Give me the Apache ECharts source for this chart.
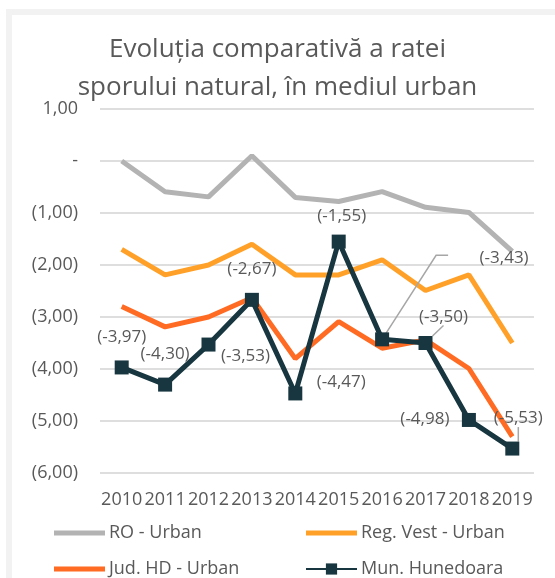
<!DOCTYPE html>
<html>
<head>
<meta charset="utf-8">
<script src="https://cdn.jsdelivr.net/npm/echarts@6/dist/echarts.min.js"></script>
<style>
  html, body { margin: 0; padding: 0; background: #fff; }
  #main { width: 555px; height: 578px; }
</style>
</head>
<body>
<div id="main"></div>
<script>
var years = ['2010', '2011', '2012', '2013', '2014', '2015', '2016', '2017', '2018', '2019'];
var roUrban = [0.00, -0.59, -0.69, 0.10, -0.70, -0.78, -0.59, -0.89, -0.99, -1.74];
var regVest = [-1.70, -2.19, -2.00, -1.60, -2.19, -2.19, -1.90, -2.49, -2.19, -3.50];
var judHd = [-2.80, -3.19, -3.00, -2.63, -3.80, -3.09, -3.60, -3.44, -3.99, -5.30];
var munHunedoara = [-3.97, -4.30, -3.53, -2.67, -4.47, -1.55, -3.43, -3.50, -4.98, -5.53];

// unde stau etichetele fata de marker (dx, dy)
var labelOffsets = [[0, -30], [0, -30], [37, 12], [0, -31], [46, -11], [3, -25], [122, -81], [18, -26], [-44, -1], [6, -30]];
var withLine = [7, 9];

function fmt(v) {
  if (Math.abs(v) < 1e-9) return '-';
  var s = Math.abs(v).toFixed(2).replace('.', ',');
  return v < 0 ? '(' + s + ')' : s;
}

var myChart = echarts.init(document.getElementById('main'));

var textColor = '#595959';
var font = '"Open Sans", sans-serif';
// iconita simpla de linie pt legenda
var lineIcon = 'path://M0,0 L50,0 L50,5 L0,5 Z';

var munData = munHunedoara.map(function (v, i) {
  return {
    value: v,
    labelLine: { show: withLine.indexOf(i) >= 0 }
  };
});

var legendBase = {
  orient: 'vertical',
  top: 524,
  padding: 0,
  height: 60,
  itemWidth: 51,
  itemHeight: 14,
  itemGap: 18,
  textStyle: { fontSize: 18, color: textColor, fontFamily: font, padding: [0, 0, 0, -1] }
};

var option = {
  backgroundColor: '#fff',
  textStyle: { fontFamily: font },
  graphic: [{
    type: 'rect',
    shape: { x: 9, y: 12, width: 600, height: 620 },
    style: { fill: 'none', stroke: '#f2f2f2', lineWidth: 6 },
    silent: true,
    z: -10
  }],
  title: {
    text: 'Evoluția comparativă a ratei\nsporului natural, în mediul urban',
    left: 'center',
    top: 26,
    textStyle: {
      fontFamily: font,
      fontSize: 26,
      fontWeight: 'normal',
      color: textColor,
      lineHeight: 38
    }
  },
  legend: [
    Object.assign({}, legendBase, {
      left: 54,
      data: [
        { name: 'RO - Urban', icon: lineIcon },
        { name: 'Jud. HD - Urban', icon: lineIcon }
      ]
    }),
    Object.assign({}, legendBase, {
      left: 305,
      data: [
        { name: 'Reg. Vest - Urban', icon: lineIcon },
        { name: 'Mun. Hunedoara' }
      ]
    })
  ],
  grid: { left: 100, right: 21, top: 109, bottom: 105 },
  xAxis: {
    type: 'category',
    data: years,
    boundaryGap: true,
    axisLine: { show: false },
    axisTick: { show: false },
    axisLabel: { fontSize: 18, color: textColor, margin: 18, interval: 0, fontFamily: font }
  },
  yAxis: {
    type: 'value',
    min: -6,
    max: 1,
    interval: 1,
    axisLine: { show: false },
    axisTick: { show: false },
    splitLine: { lineStyle: { color: '#dedede', width: 2 } },
    axisLabel: {
      fontSize: 18,
      color: textColor,
      margin: 22,
      fontFamily: font,
      formatter: fmt
    }
  },
  series: [{
    name: 'RO - Urban',
    type: 'line',
    data: roUrban,
    symbol: 'none',
    color: '#b3b3b3',
    lineStyle: { width: 5, color: '#b3b3b3' }
  }, {
    name: 'Reg. Vest - Urban',
    type: 'line',
    data: regVest,
    symbol: 'none',
    color: '#ffa128',
    lineStyle: { width: 5, color: '#ffa128' }
  }, {
    name: 'Jud. HD - Urban',
    type: 'line',
    data: judHd,
    symbol: 'none',
    color: '#ff6b23',
    lineStyle: { width: 5, color: '#ff6b23' }
  }, {
    name: 'Mun. Hunedoara',
    type: 'line',
    data: munData,
    symbol: 'rect',
    symbolSize: 14,
    color: '#17363f',
    itemStyle: { color: '#17363f' },
    lineStyle: { width: 5, color: '#17363f' },
    label: {
      show: true,
      position: 'inside',
      fontSize: 17,
      color: textColor,
      fontFamily: font,
      formatter: function (p) { return '(' + String(p.value.toFixed(2)).replace('.', ',') + ')'; }
    },
    labelLine: {
      show: false,
      lineStyle: { color: '#a6a6a6', width: 1.5 }
    },
    labelLayout: function (p) {
      var i = p.dataIndex;
      var cx = p.rect.x + p.rect.width / 2;
      var cy = p.rect.y + p.rect.height / 2;
      var o = labelOffsets[i];
      return {
        x: cx + o[0],
        y: cy + o[1],
        align: 'center',
        verticalAlign: 'middle'
      };
    },
    z: 5
  }]
};

myChart.setOption(option);

// linia de legatura cu cot pt eticheta din 2016 (ca in Excel)
var p16 = myChart.convertToPixel({ seriesIndex: 3 }, [6, munHunedoara[6]]);
myChart.setOption({
  graphic: [{
    type: 'rect',
    shape: { x: 9, y: 12, width: 600, height: 620 },
    style: { fill: 'none', stroke: '#f2f2f2', lineWidth: 6 },
    silent: true,
    z: -10
  }, {
    type: 'polyline',
    shape: { points: [[p16[0], p16[1]], [p16[0] + 54, p16[1] - 84], [p16[0] + 66, p16[1] - 84]] },
    style: { fill: 'none', stroke: '#a6a6a6', lineWidth: 1.5 },
    silent: true,
    z: 4
  }]
});
</script>
</body>
</html>
